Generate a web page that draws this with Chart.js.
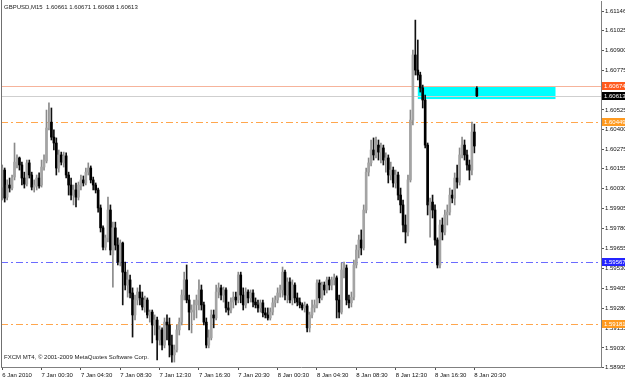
<!DOCTYPE html>
<html>
<head>
<meta charset="utf-8">
<script src="https://cdn.jsdelivr.net/npm/chart.js@4.4.1/dist/chart.umd.min.js"></script>
<style>
  html, body { margin: 0; padding: 0; background: #fff; }
  canvas { display: block; }
</style>
</head>
<body>
<canvas id="chart" width="625" height="381"></canvas>
<script>
const symbol = "GBPUSD,M15";
const copyright = "FXCM MT4, \u00a9 2001-2009 MetaQuotes Software Corp.";

// time axis: one slot per M15 bar, empty slots at the right (chart shift)
const slotCount = 244;
const tickEvery = 16;
const tickLabels = [
  "6 Jan 2010", "7 Jan 00:30", "7 Jan 04:30", "7 Jan 08:30", "7 Jan 12:30",
  "7 Jan 16:30", "7 Jan 20:30", "8 Jan 00:30", "8 Jan 04:30", "8 Jan 08:30",
  "8 Jan 12:30", "8 Jan 16:30", "8 Jan 20:30",
];

// price axis
const yMin = 1.5891;
const yMax = 1.61209;
const yTicks = [
  1.61146, 1.61025, 1.609, 1.60775, 1.60525, 1.604, 1.60275, 1.60155, 1.6003,
  1.59905, 1.5978, 1.59655, 1.5953, 1.59405, 1.5928, 1.59155, 1.5903, 1.58905,
];

// OHLC, one entry per bar
const openP = [
  1.60040, 1.60147, 1.59977, 1.60053, 1.60034, 1.60103, 1.60179, 1.60223, 1.60179, 1.60097,
  1.60059, 1.60192, 1.60116, 1.60040, 1.60047, 1.60097, 1.60053, 1.60166, 1.60204, 1.60411,
  1.60448, 1.60354, 1.60317, 1.60160, 1.60242, 1.60192, 1.60236, 1.60116, 1.60053, 1.59990,
  1.60022, 1.59977, 1.60047, 1.60085, 1.60066, 1.60134, 1.60160, 1.60085, 1.60053, 1.60022,
  1.59909, 1.59784, 1.59663, 1.59721, 1.59896, 1.59614, 1.59784, 1.59676, 1.59569, 1.59689,
  1.59506, 1.59425, 1.59457, 1.59375, 1.59237, 1.59331, 1.59381, 1.59344, 1.59287, 1.59331,
  1.59237, 1.59255, 1.59174, 1.59205, 1.59080, 1.59143, 1.59048, 1.59192, 1.59174, 1.59048,
  1.58986, 1.59017, 1.59143, 1.59192, 1.59362, 1.59457, 1.59331, 1.59255, 1.59268, 1.59300,
  1.59331, 1.59394, 1.59300, 1.59192, 1.59048, 1.59093, 1.59237, 1.59218, 1.59381, 1.59407,
  1.59362, 1.59394, 1.59281, 1.59268, 1.59318, 1.59349, 1.59331, 1.59488, 1.59362, 1.59300,
  1.59381, 1.59344, 1.59375, 1.59318, 1.59300, 1.59281, 1.59313, 1.59250, 1.59237, 1.59218,
  1.59255, 1.59313, 1.59331, 1.59375, 1.59394, 1.59506, 1.59362, 1.59444, 1.59331, 1.59425,
  1.59344, 1.59318, 1.59300, 1.59281, 1.59294, 1.59156, 1.59237, 1.59281, 1.59300, 1.59438,
  1.59344, 1.59425, 1.59394, 1.59457, 1.59425, 1.59457, 1.59470, 1.59331, 1.59255, 1.59519,
  1.59532, 1.59331, 1.59313, 1.59349, 1.59551, 1.59645, 1.59708, 1.59658, 1.59896, 1.60134,
  1.60192, 1.60273, 1.60242, 1.60304, 1.60260, 1.60286, 1.60210, 1.60223, 1.60116, 1.60147,
  1.60066, 1.60116, 1.59990, 1.59928, 1.59802, 1.59758, 1.60085, 1.60461, 1.60870, 1.60775,
  1.60744, 1.60663, 1.60587, 1.60304, 1.59928, 1.59946, 1.59896, 1.59708, 1.59551, 1.59802,
  1.59758, 1.59865, 1.59883, 1.59990, 1.59971, 1.60097, 1.60072, 1.60242, 1.60304, 1.60242,
  1.60179, 1.60147, 1.60386, 1.60661,
];
const highP = [
  1.60179, 1.60160, 1.60085, 1.60097, 1.60116, 1.60317, 1.60242, 1.60229, 1.60197, 1.60134,
  1.60210, 1.60210, 1.60134, 1.60085, 1.60116, 1.60129, 1.60210, 1.60242, 1.60524, 1.60569,
  1.60537, 1.60399, 1.60349, 1.60273, 1.60260, 1.60260, 1.60255, 1.60134, 1.60097, 1.60053,
  1.60066, 1.60072, 1.60116, 1.60110, 1.60160, 1.60192, 1.60173, 1.60103, 1.60066, 1.60034,
  1.59928, 1.59796, 1.59739, 1.59977, 1.59928, 1.59820, 1.59820, 1.59721, 1.59708, 1.59695,
  1.59569, 1.59519, 1.59488, 1.59407, 1.59362, 1.59407, 1.59425, 1.59381, 1.59356, 1.59344,
  1.59268, 1.59268, 1.59237, 1.59224, 1.59168, 1.59156, 1.59218, 1.59237, 1.59218, 1.59111,
  1.59048, 1.59174, 1.59218, 1.59394, 1.59506, 1.59551, 1.59362, 1.59300, 1.59331, 1.59362,
  1.59457, 1.59425, 1.59318, 1.59218, 1.59143, 1.59268, 1.59268, 1.59425, 1.59438, 1.59425,
  1.59412, 1.59407, 1.59318, 1.59344, 1.59381, 1.59381, 1.59506, 1.59506, 1.59407, 1.59407,
  1.59394, 1.59394, 1.59394, 1.59344, 1.59331, 1.59331, 1.59331, 1.59281, 1.59281, 1.59281,
  1.59344, 1.59356, 1.59407, 1.59425, 1.59538, 1.59519, 1.59470, 1.59470, 1.59457, 1.59438,
  1.59375, 1.59344, 1.59313, 1.59318, 1.59306, 1.59255, 1.59331, 1.59331, 1.59457, 1.59457,
  1.59444, 1.59444, 1.59475, 1.59475, 1.59475, 1.59494, 1.59482, 1.59362, 1.59564, 1.59569,
  1.59551, 1.59362, 1.59381, 1.59582, 1.59676, 1.59739, 1.59771, 1.59928, 1.60160, 1.60223,
  1.60336, 1.60349, 1.60354, 1.60336, 1.60317, 1.60304, 1.60255, 1.60242, 1.60197, 1.60166,
  1.60147, 1.60134, 1.60034, 1.59959, 1.59865, 1.60116, 1.60524, 1.60901, 1.61089, 1.60964,
  1.60762, 1.60681, 1.60618, 1.60317, 1.59971, 1.59990, 1.59928, 1.59721, 1.59833, 1.59846,
  1.59896, 1.59928, 1.60034, 1.60022, 1.60129, 1.60179, 1.60286, 1.60354, 1.60336, 1.60273,
  1.60210, 1.60449, 1.60436, 1.60671,
];
const lowP = [
  1.59959, 1.59946, 1.59959, 1.60009, 1.60022, 1.60085, 1.60160, 1.60147, 1.60053, 1.60034,
  1.60047, 1.60097, 1.60022, 1.60009, 1.60022, 1.60034, 1.60040, 1.60147, 1.60192, 1.60399,
  1.60336, 1.60273, 1.60116, 1.60134, 1.60179, 1.60166, 1.60097, 1.59990, 1.59959, 1.59928,
  1.59915, 1.59959, 1.60022, 1.60047, 1.60053, 1.60116, 1.60066, 1.60022, 1.60003, 1.59883,
  1.59758, 1.59645, 1.59645, 1.59695, 1.59614, 1.59412, 1.59645, 1.59551, 1.59545, 1.59300,
  1.59394, 1.59349, 1.59344, 1.59098, 1.59205, 1.59300, 1.59300, 1.59268, 1.59255, 1.59218,
  1.59192, 1.59061, 1.59111, 1.58954, 1.59048, 1.59017, 1.59030, 1.59080, 1.58973, 1.58941,
  1.58941, 1.59004, 1.59111, 1.59174, 1.59331, 1.59313, 1.59143, 1.59124, 1.59205, 1.59218,
  1.59268, 1.59268, 1.59174, 1.59030, 1.59030, 1.59080, 1.59156, 1.59205, 1.59344, 1.59331,
  1.59318, 1.59255, 1.59237, 1.59250, 1.59281, 1.59300, 1.59313, 1.59313, 1.59268, 1.59281,
  1.59313, 1.59318, 1.59287, 1.59281, 1.59255, 1.59255, 1.59224, 1.59218, 1.59205, 1.59205,
  1.59237, 1.59287, 1.59313, 1.59349, 1.59349, 1.59331, 1.59313, 1.59313, 1.59300, 1.59313,
  1.59294, 1.59281, 1.59268, 1.59255, 1.59130, 1.59130, 1.59218, 1.59255, 1.59281, 1.59313,
  1.59331, 1.59362, 1.59375, 1.59394, 1.59394, 1.59425, 1.59218, 1.59218, 1.59243, 1.59470,
  1.59300, 1.59281, 1.59287, 1.59331, 1.59532, 1.59595, 1.59614, 1.59645, 1.59878, 1.60110,
  1.60173, 1.60210, 1.60223, 1.60210, 1.60192, 1.60179, 1.60134, 1.60066, 1.60085, 1.60040,
  1.60034, 1.59959, 1.59878, 1.59758, 1.59689, 1.59733, 1.60072, 1.60430, 1.60744, 1.60713,
  1.60637, 1.60537, 1.60286, 1.59865, 1.59726, 1.59846, 1.59676, 1.59532, 1.59532, 1.59708,
  1.59739, 1.59802, 1.59865, 1.59941, 1.59928, 1.60034, 1.60053, 1.60223, 1.60210, 1.60147,
  1.60085, 1.60116, 1.60255, 1.60608,
];
const closeP = [
  1.60160, 1.59971, 1.60053, 1.60034, 1.60097, 1.60197, 1.60223, 1.60179, 1.60097, 1.60059,
  1.60192, 1.60116, 1.60040, 1.60053, 1.60097, 1.60047, 1.60166, 1.60210, 1.60411, 1.60448,
  1.60354, 1.60317, 1.60160, 1.60242, 1.60197, 1.60236, 1.60116, 1.60053, 1.59990, 1.60022,
  1.59977, 1.60053, 1.60085, 1.60066, 1.60134, 1.60160, 1.60085, 1.60053, 1.60022, 1.59909,
  1.59784, 1.59663, 1.59721, 1.59896, 1.59645, 1.59784, 1.59676, 1.59569, 1.59689, 1.59506,
  1.59425, 1.59457, 1.59375, 1.59237, 1.59331, 1.59381, 1.59344, 1.59287, 1.59331, 1.59237,
  1.59255, 1.59174, 1.59205, 1.59080, 1.59143, 1.59048, 1.59192, 1.59174, 1.59048, 1.58986,
  1.59017, 1.59143, 1.59192, 1.59362, 1.59457, 1.59331, 1.59255, 1.59268, 1.59300, 1.59331,
  1.59394, 1.59300, 1.59192, 1.59048, 1.59093, 1.59237, 1.59218, 1.59381, 1.59407, 1.59362,
  1.59394, 1.59281, 1.59268, 1.59318, 1.59349, 1.59331, 1.59488, 1.59362, 1.59300, 1.59381,
  1.59344, 1.59375, 1.59318, 1.59300, 1.59281, 1.59313, 1.59250, 1.59237, 1.59218, 1.59255,
  1.59313, 1.59331, 1.59375, 1.59394, 1.59506, 1.59362, 1.59444, 1.59331, 1.59425, 1.59344,
  1.59318, 1.59300, 1.59281, 1.59294, 1.59156, 1.59237, 1.59281, 1.59300, 1.59438, 1.59344,
  1.59425, 1.59394, 1.59457, 1.59425, 1.59457, 1.59470, 1.59331, 1.59255, 1.59519, 1.59532,
  1.59331, 1.59313, 1.59349, 1.59551, 1.59645, 1.59708, 1.59658, 1.59896, 1.60134, 1.60192,
  1.60273, 1.60242, 1.60304, 1.60260, 1.60286, 1.60210, 1.60223, 1.60116, 1.60147, 1.60066,
  1.60116, 1.59990, 1.59928, 1.59802, 1.59758, 1.60085, 1.60461, 1.60870, 1.60775, 1.60744,
  1.60663, 1.60587, 1.60304, 1.59928, 1.59946, 1.59896, 1.59708, 1.59551, 1.59802, 1.59758,
  1.59865, 1.59883, 1.59990, 1.59971, 1.60097, 1.60072, 1.60242, 1.60304, 1.60242, 1.60179,
  1.60147, 1.60386, 1.60298, 1.60613,
];

// horizontal levels drawn on the chart (price), and their look
const levelPrices = [1.60674, 1.60613, 1.60449, 1.59567, 1.59181];
const levelStyles = [
  { line: "#f6b39b", dash: [], box: "#ff5a1e" },
  { line: "#cfcfcf", dash: [], box: "#000000" },
  { line: "#ffa64d", dash: [7, 3, 2, 3], box: "#ff9a1f" },
  { line: "#6b6bff", dash: [7, 3, 2, 3], box: "#2424ff" },
  { line: "#ffa64d", dash: [7, 3, 2, 3], box: "#ff9a1f" },
];

// rectangle object: bar slots and price bounds
const rectFrom = 169;
const rectTo = 225;
const rectHigh = 1.60674;
const rectLow = 1.60593;

const FONT = "Liberation Sans";
const last = closeP.length - 1;
const bull = openP.map((o, i) => closeP[i] >= o);

const overlays = {
  id: "overlays",
  beforeDatasetsDraw(chart) {
    const { ctx, chartArea, scales: { x, y } } = chart;
    ctx.save();
    // cyan rectangle
    const x0 = x.getPixelForValue(rectFrom);
    const x1 = x.getPixelForValue(rectTo);
    const y0 = y.getPixelForValue(rectHigh);
    const y1 = y.getPixelForValue(rectLow);
    ctx.fillStyle = "#00ffff";
    ctx.fillRect(x0, y0, x1 - x0, y1 - y0);
    // level lines
    levelPrices.forEach((p, i) => {
      const py = Math.round(y.getPixelForValue(p)) + 0.5;
      ctx.strokeStyle = levelStyles[i].line;
      ctx.lineWidth = 1;
      ctx.setLineDash(levelStyles[i].dash);
      ctx.beginPath();
      ctx.moveTo(chartArea.left, py);
      ctx.lineTo(chartArea.right, py);
      ctx.stroke();
    });
    ctx.restore();
  },
  afterDraw(chart) {
    const { ctx, chartArea, scales: { y } } = chart;
    ctx.save();
    // left frame line
    ctx.strokeStyle = "#707070";
    ctx.lineWidth = 1;
    ctx.beginPath();
    ctx.moveTo(chartArea.left + 0.5, 0);
    ctx.lineTo(chartArea.left + 0.5, chartArea.bottom);
    ctx.stroke();
    // price boxes on the axis
    ctx.font = `6px "${FONT}"`;
    ctx.textBaseline = "middle";
    ctx.textAlign = "left";
    levelPrices.forEach((p, i) => {
      const py = Math.round(y.getPixelForValue(p));
      ctx.fillStyle = levelStyles[i].box;
      ctx.fillRect(chartArea.right + 1, py - 4, 30, 8);
      ctx.fillStyle = "#ffffff";
      ctx.fillText(p.toFixed(5), chartArea.right + 3, py + 0.5);
    });
    // title and copyright
    ctx.fillStyle = "#222";
    ctx.fillText(
      `${symbol}  ${openP[last].toFixed(5)} ${highP[last].toFixed(5)} ${lowP[last].toFixed(5)} ${closeP[last].toFixed(5)}`,
      4, 7
    );
    ctx.fillText(copyright, 4, chartArea.bottom - 10);
    ctx.restore();
  },
};

const ctx = document.getElementById("chart").getContext("2d");
new Chart(ctx, {
  type: "bar",
  data: {
    labels: Array.from({ length: slotCount }, (_, i) => String(i)),
    datasets: [
      {
        label: "body",
        data: openP.map((o, i) => [o, closeP[i]]),
        backgroundColor: bull.map((b) => (b ? "#a4a4a4" : "#000000")),
        barThickness: 2,
        minBarLength: 1,
        grouped: false,
        order: 0,
      },
      {
        label: "wick",
        data: lowP.map((l, i) => [l, highP[i]]),
        backgroundColor: bull.map((b) => (b ? "#8a8a8a" : "#111111")),
        barThickness: 1,
        grouped: false,
        order: 1,
      },
    ],
  },
  options: {
    responsive: false,
    animation: false,
    devicePixelRatio: 1,
    layout: { padding: { top: 1, left: 1, right: 0, bottom: 0 } },
    plugins: { legend: { display: false }, tooltip: { enabled: false } },
    scales: {
      x: {
        type: "category",
        offset: true,
        grid: {
          drawOnChartArea: false,
          offset: false,
          tickLength: 3,
          color: (c) => (c.index % tickEvery === 0 && c.index / tickEvery < tickLabels.length ? "#555" : "rgba(0,0,0,0)"),
        },
        border: { display: true, color: "#808080" },
        ticks: {
          autoSkip: false,
          maxRotation: 0,
          align: "start",
          padding: 2,
          color: "#111",
          font: { family: FONT, size: 6 },
          callback: (v, i) => (i % tickEvery === 0 && tickLabels[i / tickEvery]) ? tickLabels[i / tickEvery] : "",
        },
        afterFit: (s) => { s.height = 14; s.paddingLeft = 0; s.paddingRight = 0; },
      },
      y: {
        type: "linear",
        position: "right",
        min: yMin,
        max: yMax,
        afterBuildTicks: (s) => { s.ticks = yTicks.map((v) => ({ value: v })); },
        grid: { drawOnChartArea: false, tickLength: 3, color: "#555" },
        border: { display: true, color: "#808080" },
        ticks: {
          autoSkip: false,
          padding: 1,
          color: "#111",
          font: { family: FONT, size: 6 },
          callback: (v) => Number(v).toFixed(5),
        },
        afterFit: (s) => { s.width = 24; s.paddingTop = 0; s.paddingBottom = 0; },
      },
    },
  },
  plugins: [overlays],
});
</script>
</body>
</html>
